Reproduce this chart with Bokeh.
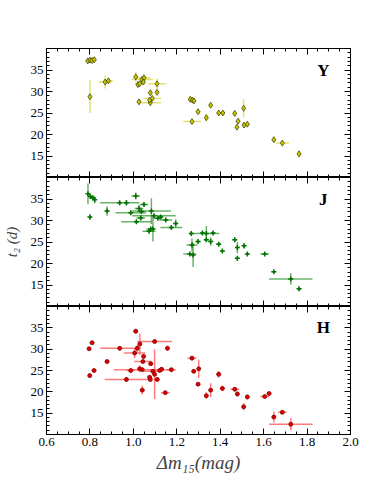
from bokeh.plotting import figure
from bokeh.layouts import column
from bokeh.models import (LinearAxis, Range1d, FixedTicker, Label, PrintfTickFormatter,
                          CustomLabelingPolicy)
from bokeh.embed import file_html
from bokeh.resources import INLINE

# ---------------- data ----------------
# Y band
y_x = [0.79, 0.80, 0.81, 0.82, 0.80, 0.87, 0.885, 1.011, 1.021, 1.029, 1.04, 1.049, 1.046,
       1.109, 1.078, 1.109, 1.026, 1.087, 1.078, 1.075, 1.262, 1.272, 1.279, 1.27, 1.298,
       1.336, 1.356, 1.393, 1.412, 1.467, 1.482, 1.477, 1.508, 1.510, 1.525, 1.647, 1.686, 1.763]
y_y = [37.1, 37.3, 37.2, 37.4, 28.8, 32.2, 32.5, 33.4, 31.6, 31.8, 32.8, 33.2, 32.2,
       31.8, 29.7, 29.8, 27.6, 28.4, 27.4, 28.0, 28.2, 28.0, 27.8, 23.0, 25.3,
       23.9, 26.8, 25.0, 25.0, 24.9, 23.1, 21.7, 26.1, 22.2, 22.4, 18.8, 18.0, 15.5]
y_xerr = [0.01, 0.01, 0.01, 0.01, 0.005, 0.03, 0.02, 0.01, 0.01, 0.02, 0.05, 0.03, 0.01,
          0.04, 0.01, 0.01, 0.01, 0.04, 0.05, 0.01, 0.01, 0.01, 0.01, 0.04, 0.01,
          0.01, 0.01, 0.01, 0.01, 0.01, 0.01, 0.01, 0.005, 0.01, 0.01, 0.01, 0.03, 0.01]
y_yerr = [0.2, 0.2, 0.2, 0.2, 3.8, 1.5, 0.5, 1.2, 0.4, 0.4, 0.5, 0.4, 0.4,
          1.2, 0.3, 0.3, 0.3, 0.4, 0.6, 0.4, 0.3, 0.3, 0.3, 0.3, 0.3,
          0.8, 0.3, 0.3, 0.3, 0.3, 0.4, 0.4, 2.1, 0.3, 0.3, 0.3, 0.2, 0.8]

# J band
j_x = [0.791, 0.802, 0.814, 0.822, 0.80, 0.879, 0.937, 0.968, 1.011, 0.988, 1.026, 1.037,
       1.049, 1.034, 1.014, 1.083, 1.09, 1.095, 1.113, 1.126, 1.149, 1.08, 1.072, 1.175,
       1.195, 1.267, 1.27, 1.275, 1.26, 1.298, 1.318, 1.336, 1.336, 1.356, 1.367, 1.393,
       1.41, 1.467, 1.479, 1.479, 1.51, 1.525, 1.605, 1.647, 1.725, 1.763]
j_y = [36.2, 35.6, 35.3, 34.8, 30.8, 32.2, 34.1, 34.1, 35.7, 31.8, 32.8, 32.1,
       33.7, 30.6, 29.7, 32.2, 28.0, 31.1, 30.5, 30.8, 30.1, 28.0, 27.5, 28.4,
       29.3, 27.0, 24.3, 22.0, 22.2, 25.1, 27.1, 27.0, 25.5, 25.1, 27.1, 24.5,
       22.9, 25.5, 23.7, 21.2, 24.1, 22.2, 22.2, 18.1, 16.4, 14.1]
j_xerr = [0.005, 0.01, 0.01, 0.005, 0.005, 0.01, 0.09, 0.01, 0.02, 0.07, 0.02, 0.02,
          0.02, 0.02, 0.07, 0.09, 0.005, 0.1, 0.02, 0.01, 0.03, 0.02, 0.03, 0.05,
          0.005, 0.01, 0.025, 0.005, 0.03, 0.01, 0.005, 0.06, 0.01, 0.005, 0.01, 0.01,
          0.005, 0.01, 0.005, 0.005, 0.01, 0.005, 0.02, 0.01, 0.1, 0.01]
j_yerr = [2.4, 0.5, 0.4, 0.8, 0.6, 1.1, 0.4, 0.6, 0.8, 0.5, 0.8, 0.4,
          0.4, 0.4, 0.4, 3.0, 2.9, 0.4, 0.4, 0.4, 0.4, 0.4, 0.4, 0.4,
          1.0, 0.4, 1.5, 2.8, 0.3, 0.4, 0.4, 1.7, 0.4, 1.0, 0.4, 0.5,
          0.3, 0.4, 1.3, 0.5, 0.6, 0.3, 0.1, 0.1, 1.35, 0.5]

# H band
h_x = [0.796, 0.81, 0.799, 0.819, 0.879, 0.937, 0.988, 0.968, 1.011, 1.018, 1.03, 1.006,
       1.029, 1.041, 1.047, 1.044, 1.041, 1.08, 1.098, 1.075, 1.078, 1.09, 1.098, 1.11,
       1.121, 1.13, 1.157, 1.147, 1.175, 1.27, 1.278, 1.298, 1.301, 1.336, 1.356, 1.393,
       1.41, 1.467, 1.479, 1.508, 1.525, 1.605, 1.625, 1.647, 1.686, 1.725]
h_y = [30.1, 31.5, 23.8, 25.0, 27.1, 30.2, 25.0, 22.9, 34.2, 30.2, 31.2, 29.1,
       25.4, 25.2, 28.3, 27.1, 20.4, 26.6, 31.8, 23.4, 22.9, 24.8, 24.1, 22.9,
       25.0, 25.3, 30.2, 19.8, 25.2, 27.9, 24.8, 21.8, 25.4, 19.1, 20.4, 24.1,
       20.8, 20.6, 19.5, 16.5, 18.8, 18.9, 19.6, 14.1, 15.2, 12.4]
h_xerr = [0.01, 0.01, 0.005, 0.01, 0.01, 0.09, 0.02, 0.1, 0.01, 0.01, 0.01, 0.05,
          0.01, 0.13, 0.005, 0.04, 0.01, 0.01, 0.08, 0.01, 0.01, 0.04, 0.005, 0.01,
          0.01, 0.01, 0.01, 0.02, 0.02, 0.02, 0.01, 0.01, 0.005, 0.01, 0.005, 0.01,
          0.01, 0.02, 0.01, 0.01, 0.01, 0.02, 0.01, 0.01, 0.02, 0.1]
h_yerr = [0.3, 0.3, 0.5, 0.3, 0.4, 0.5, 0.6, 0.6, 0.6, 0.8, 2.5, 1.2,
          0.8, 0.5, 0.6, 0.4, 1.0, 0.4, 0.4, 0.5, 0.5, 0.5, 5.8, 0.4,
          0.4, 0.4, 0.6, 0.3, 0.3, 0.5, 0.4, 0.4, 2.2, 0.8, 1.6, 0.8,
          0.6, 0.2, 0.6, 0.8, 0.6, 0.2, 0.4, 1.3, 0.2, 1.4]

x_ticks = [0.6, 0.8, 1.0, 1.2, 1.4, 1.6, 1.8, 2.0]
y_ticks = [15, 20, 25, 30, 35]
band_names = ["Y", "J", "H"]

FONT = "Liberation Serif"
x_minor = [round(0.6 + 0.05 * i, 2) for i in range(29)]
y_minor = list(range(10, 41))

HIDE = """
for (const i of Array.from(indices)) { indices.unset(i) }
return indices
"""


def style_axis(ax, ticks, minor, labels=True, fmt=None):
    ax.ticker = FixedTicker(ticks=ticks, minor_ticks=minor)
    ax.major_tick_in = 6
    ax.major_tick_out = 0
    ax.minor_tick_in = 3
    ax.minor_tick_out = 0
    ax.axis_line_color = "black"
    ax.major_tick_line_color = "black"
    ax.minor_tick_line_color = "black"
    ax.major_label_text_font = FONT
    ax.major_label_text_color = "black"
    if fmt:
        ax.formatter = PrintfTickFormatter(format=fmt)
    if labels:
        ax.major_label_text_font_size = "13px"
        ax.major_label_standoff = 3
    else:
        ax.major_label_text_font_size = "0px"
        ax.major_label_standoff = 0
        ax.major_label_policy = CustomLabelingPolicy(code=HIDE)


def make_panel(name, xs, ys, xe, ye, kind, height, top, bottom, ylabel=None, xlabel=None):
    p = figure(width=366, height=height, output_backend="svg", toolbar_location=None,
               x_range=Range1d(0.6, 2.0), y_range=Range1d(10, 40),
               min_border=0, min_border_left=46, min_border_right=16,
               min_border_top=top, min_border_bottom=bottom)
    p.grid.visible = False
    p.outline_line_color = "black"
    p.background_fill_color = "white"
    p.border_fill_color = "white"

    ax_bottom = p.xaxis[0]
    ax_left = p.yaxis[0]
    style_axis(ax_bottom, x_ticks, x_minor, labels=xlabel is not None, fmt="%.1f")
    style_axis(ax_left, y_ticks, y_minor, labels=True)
    ax_top = LinearAxis()
    style_axis(ax_top, x_ticks, x_minor, labels=False)
    p.add_layout(ax_top, "above")
    ax_right = LinearAxis()
    style_axis(ax_right, y_ticks, y_minor, labels=False)
    p.add_layout(ax_right, "right")

    if ylabel:
        ax_left.axis_label = ylabel
        ax_left.axis_label_text_font = FONT
        ax_left.axis_label_text_font_style = "italic"
        ax_left.axis_label_text_font_size = "15px"
        ax_left.axis_label_standoff = 8
    if xlabel:
        ax_bottom.axis_label = xlabel
        ax_bottom.axis_label_text_font = FONT
        ax_bottom.axis_label_text_font_style = "italic"
        ax_bottom.axis_label_text_font_size = "19px"
        ax_bottom.axis_label_standoff = 3

    x0 = [a - b for a, b in zip(xs, xe)]
    x1 = [a + b for a, b in zip(xs, xe)]
    y0 = [a - b for a, b in zip(ys, ye)]
    y1 = [a + b for a, b in zip(ys, ye)]

    if kind == "Y":
        ecol = "#d8d840"
    elif kind == "J":
        ecol = "#3a9a3a"
    else:
        ecol = "#ff5050"
    p.segment(x0, ys, x1, ys, line_color=ecol, line_width=1.5, line_alpha=0.75)
    p.segment(xs, y0, xs, y1, line_color=ecol, line_width=1.5, line_alpha=0.75)

    if kind == "Y":
        p.scatter(xs, ys, marker="diamond", size=6, fill_color="#c8c800",
                  line_color="#303000", line_width=0.7)
    elif kind == "J":
        p.scatter(xs, ys, marker="cross", size=5, line_color="#007000", line_width=1.5)
    else:
        p.scatter(xs, ys, marker="circle", size=4, fill_color="#dd0000",
                  line_color="#880000", line_width=0.8)

    p.add_layout(Label(x=1.875, y=35, text=name, text_font=FONT, text_font_style="bold",
                       text_font_size="17px", text_align="center", text_baseline="middle",
                       text_color="black"))
    return p


p1 = make_panel(band_names[0], y_x, y_y, y_xerr, y_yerr, "Y", 177, 48, 0)
p2 = make_panel(band_names[1], j_x, j_y, j_xerr, j_yerr, "J", 129, 0, 0, ylabel="t₂ (d)")
p3 = make_panel(band_names[2], h_x, h_y, h_xerr, h_yerr, "H", 169, 0, 40, xlabel="Δm₁₅(mag)")

layout = column(p1, p2, p3)
open("out.html", "w").write(file_html(layout, INLINE))
